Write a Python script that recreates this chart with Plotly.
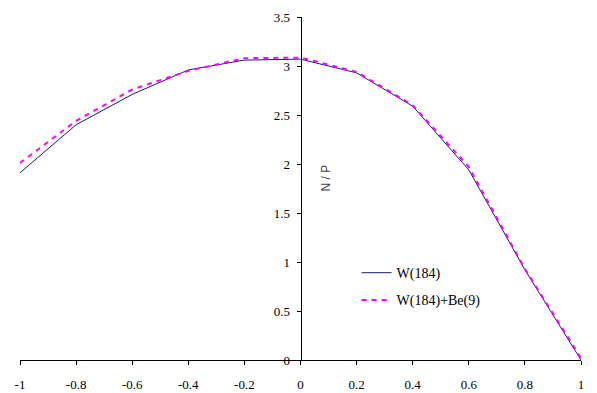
import plotly.graph_objects as go

x_vals = [-1, -0.8, -0.6, -0.4, -0.2, 0, 0.2, 0.4, 0.6, 0.8, 1]
w184 = [1.91, 2.40, 2.71, 2.96, 3.06, 3.07, 2.93, 2.59, 1.94, 0.92, 0.0]
w184_be9 = [2.01, 2.44, 2.76, 2.95, 3.08, 3.085, 2.94, 2.60, 1.97, 0.93, 0.02]

x_ticks = [-1, -0.8, -0.6, -0.4, -0.2, 0, 0.2, 0.4, 0.6, 0.8, 1]
x_tick_labels = ["-1", "-0.8", "-0.6", "-0.4", "-0.2", "0", "0.2", "0.4", "0.6", "0.8", "1"]
y_ticks = [0, 0.5, 1, 1.5, 2, 2.5, 3, 3.5]
y_tick_labels = ["0", "0.5", "1", "1.5", "2", "2.5", "3", "3.5"]

serif = "Liberation Serif, Times New Roman, serif"

fig = go.Figure()
fig.add_trace(go.Scatter(x=x_vals, y=w184, mode="lines", name="W(184)",
                         legendgroup="a",
                         line=dict(color="#1A1A80", width=1)))
fig.add_trace(go.Scatter(x=x_vals, y=w184_be9, mode="lines", name="W(184)+Be(9)",
                         legendgroup="b",
                         line=dict(color="#FF00FF", width=2, dash="5px,5px")))

fig.update_layout(
    width=597, height=393,
    margin=dict(l=20, r=16, t=17, b=33, autoexpand=False),
    paper_bgcolor="white", plot_bgcolor="white",
    font=dict(family=serif, size=14, color="black"),
    showlegend=True,
    legend=dict(x=0.6, y=0.3, xanchor="left", yanchor="top",
                bgcolor="rgba(0,0,0,0)", font=dict(family=serif, size=14),
                traceorder="grouped", tracegroupgap=6, itemwidth=30),
    xaxis=dict(range=[-1, 1], tickvals=x_ticks, ticktext=x_tick_labels,
               showline=True, linecolor="black", linewidth=1,
               ticks="outside", ticklen=4, tickcolor="black",
               showgrid=False, zeroline=False, automargin=False,
               ticklabelstandoff=8,
               tickfont=dict(family=serif, size=13)),
    yaxis=dict(range=[0, 3.5], tickvals=y_ticks, ticktext=y_tick_labels,
               anchor="free", position=0.5,
               showline=True, linecolor="black", linewidth=1,
               ticks="outside", ticklen=4, tickcolor="black",
               showgrid=False, zeroline=False, automargin=False,
               ticklabelstandoff=4,
               tickfont=dict(family=serif, size=13)),
    annotations=[dict(text="N / P", x=0.546, y=0.53, xref="paper", yref="paper",
                      showarrow=False, textangle=-90,
                      font=dict(family="Liberation Sans", size=12, color="#404040"))],
)

fig.write_html("out.html", post_script="document.body.style.margin='0';",
               config={"displayModeBar": False})
